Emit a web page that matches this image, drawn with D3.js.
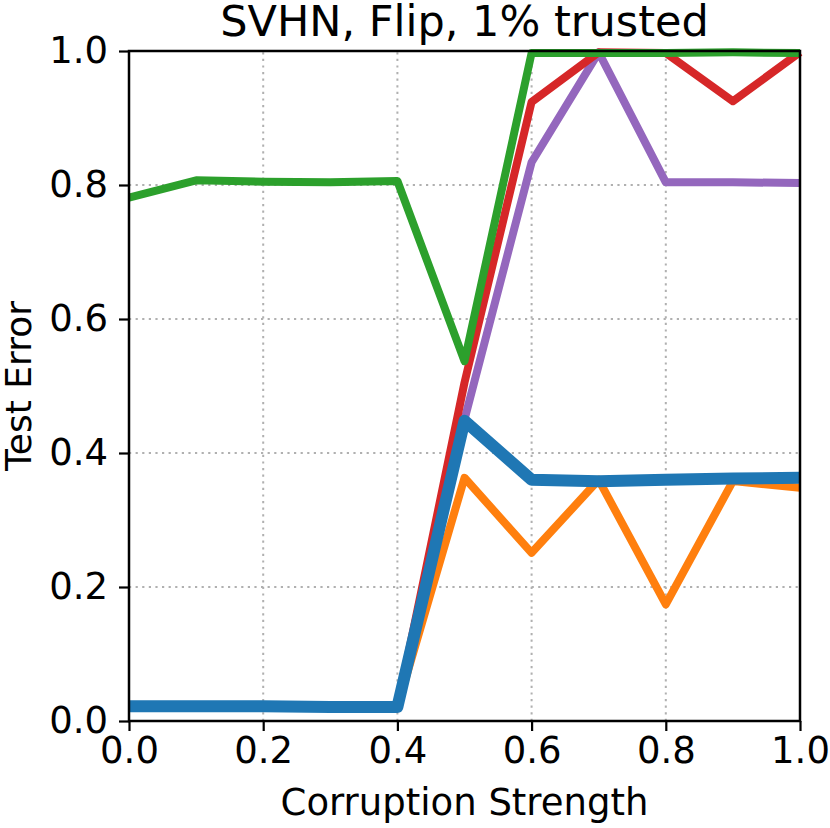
<!DOCTYPE html>
<html>
<head>
<meta charset="utf-8">
<script src="https://cdn.jsdelivr.net/npm/d3@7"></script>
<style>
  body { margin: 0; background: #fff; }
  text { font-family: "DejaVu Sans", sans-serif; }
</style>
</head>
<body>
<script>
// corruption strengths
const strengths = [0.0, 0.1, 0.2, 0.3, 0.4, 0.5, 0.6, 0.7, 0.8, 0.9, 1.0];

// test errors per method
const orangeErr = [0.022, 0.022, 0.022, 0.021, 0.021, 0.363, 0.251, 0.360, 0.174, 0.358, 0.348];
const purpleErr = [0.022, 0.022, 0.022, 0.021, 0.021, 0.450, 0.834, 0.998, 0.804, 0.804, 0.803];
const redErr    = [0.022, 0.022, 0.022, 0.021, 0.021, 0.505, 0.924, 0.998, 0.997, 0.925, 0.998];
const greenErr  = [0.781, 0.807, 0.805, 0.804, 0.806, 0.537, 0.997, 0.997, 0.997, 0.998, 0.997];
const blueErr   = [0.022, 0.022, 0.022, 0.021, 0.021, 0.448, 0.360, 0.358, 0.360, 0.362, 0.363];

const xTicks = [0.0, 0.2, 0.4, 0.6, 0.8, 1.0];
const yTicks = [0.0, 0.2, 0.4, 0.6, 0.8, 1.0];

// drawing order: last is on top
const series = [
  { values: orangeErr, color: "#ff7f0e", width: 8 },
  { values: purpleErr, color: "#9467bd", width: 8 },
  { values: redErr,    color: "#d62728", width: 8 },
  { values: greenErr,  color: "#2ca02c", width: 8 },
  { values: blueErr,   color: "#1f77b4", width: 12 }
];

const width = 830, height = 828;
const margin = { left: 129, right: 30, top: 51, bottom: 107 };

const svg = d3.select("body").append("svg")
  .attr("width", width)
  .attr("height", height);

const x = d3.scaleLinear().domain([0, 1]).range([margin.left, width - margin.right]);
const y = d3.scaleLinear().domain([0, 1]).range([height - margin.bottom, margin.top]);

// grid
const grid = svg.append("g")
  .attr("stroke", "#b0b0b0")
  .attr("stroke-width", 2)
  .attr("stroke-dasharray", "2.2,4.4");
grid.selectAll(".gx").data(xTicks).join("line")
  .attr("x1", d => x(d)).attr("x2", d => x(d))
  .attr("y1", y(0)).attr("y2", y(1));
grid.selectAll(".gy").data(yTicks).join("line")
  .attr("y1", d => y(d)).attr("y2", d => y(d))
  .attr("x1", x(0)).attr("x2", x(1));

// lines
const line = d3.line()
  .x((d, i) => x(strengths[i]))
  .y(d => y(d));

svg.append("g").selectAll("path")
  .data(series)
  .join("path")
    .attr("fill", "none")
    .attr("stroke", d => d.color)
    .attr("stroke-width", d => d.width)
    .attr("stroke-linejoin", "round")
    .attr("stroke-linecap", "butt")
    .attr("d", d => line(d.values));

// frame
svg.append("rect")
  .attr("x", x(0)).attr("y", y(1))
  .attr("width", x(1) - x(0)).attr("height", y(0) - y(1))
  .attr("fill", "none")
  .attr("stroke", "#000")
  .attr("stroke-width", 2.5);

// axes
const xAxis = svg.append("g")
  .attr("transform", `translate(0,${y(0)})`)
  .call(d3.axisBottom(x).tickValues(xTicks).tickFormat(d3.format(".1f")).tickSize(10).tickPadding(6));
const yAxis = svg.append("g")
  .attr("transform", `translate(${x(0)},0)`)
  .call(d3.axisLeft(y).tickValues(yTicks).tickFormat(d3.format(".1f")).tickSize(10).tickPadding(11));

[xAxis, yAxis].forEach(a => {
  a.select(".domain").remove();
  a.selectAll(".tick line").attr("stroke", "#000").attr("stroke-width", 2.2);
  a.selectAll(".tick text")
    .attr("fill", "#000")
    .style("font-family", "'DejaVu Sans', sans-serif")
    .style("font-size", "37px");
});

// title and labels
svg.append("text")
  .attr("x", (x(0) + x(1)) / 2)
  .attr("y", 36)
  .attr("text-anchor", "middle")
  .style("font-size", "43px")
  .text("SVHN, Flip, 1% trusted");

svg.append("text")
  .attr("x", (x(0) + x(1)) / 2)
  .attr("y", 815)
  .attr("text-anchor", "middle")
  .style("font-size", "37px")
  .text("Corruption Strength");

svg.append("text")
  .attr("transform", `translate(31,${(y(0) + y(1)) / 2}) rotate(-90)`)
  .attr("text-anchor", "middle")
  .style("font-size", "36px")
  .text("Test Error");
</script>
</body>
</html>
